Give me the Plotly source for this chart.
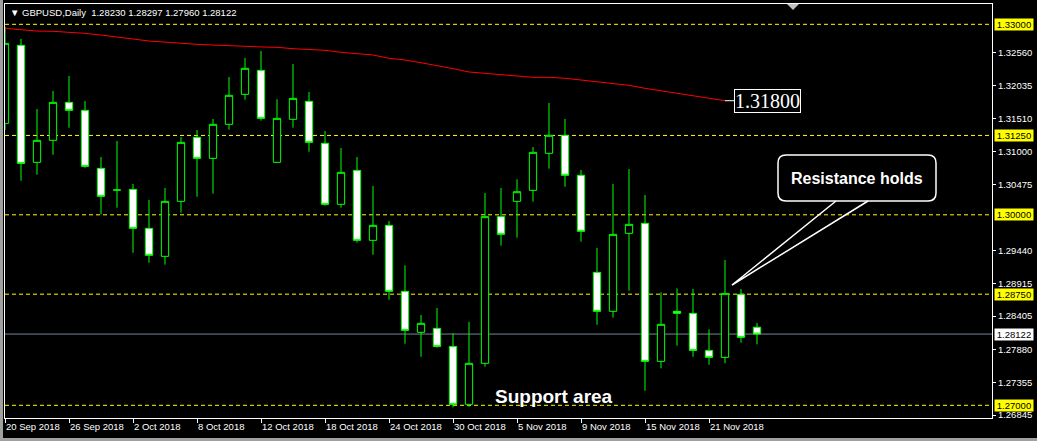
import plotly.graph_objects as go

# ---------------- data ----------------
dates = ["2018-09-20", "2018-09-21", "2018-09-24", "2018-09-25", "2018-09-26", "2018-09-27",
         "2018-09-28", "2018-10-01", "2018-10-02", "2018-10-03", "2018-10-04", "2018-10-05",
         "2018-10-08", "2018-10-09", "2018-10-10", "2018-10-11", "2018-10-12", "2018-10-15",
         "2018-10-16", "2018-10-17", "2018-10-18", "2018-10-19", "2018-10-22", "2018-10-23",
         "2018-10-24", "2018-10-25", "2018-10-26", "2018-10-29", "2018-10-30", "2018-10-31",
         "2018-11-01", "2018-11-02", "2018-11-05", "2018-11-06", "2018-11-07", "2018-11-08",
         "2018-11-09", "2018-11-12", "2018-11-13", "2018-11-14", "2018-11-15", "2018-11-16",
         "2018-11-19", "2018-11-20", "2018-11-21", "2018-11-22", "2018-11-23", "2018-11-26"]

open_ = [1.31440, 1.32669, 1.30826, 1.31173, 1.31771, 1.31645, 1.30732, 1.30391, 1.30401, 1.29787,
         1.29346, 1.30212, 1.31220, 1.30889, 1.31425, 1.31897, 1.32275, 1.30826, 1.31504, 1.31787,
         1.31126, 1.30165, 1.30700, 1.29598, 1.29834, 1.28795, 1.28149, 1.28212, 1.27928, 1.27015,
         1.27661, 1.29971, 1.30212, 1.30385, 1.30968, 1.31252, 1.30622, 1.29094, 1.28480, 1.29708,
         1.29866, 1.27692, 1.28480, 1.28448, 1.27865, 1.27755, 1.28747, 1.28230]
high = [1.32963, 1.32769, 1.31666, 1.31950, 1.32186, 1.31792, 1.30910, 1.31162, 1.30485, 1.30233,
        1.30422, 1.31225, 1.31336, 1.31509, 1.32170, 1.32470, 1.32580, 1.31819, 1.32375, 1.31934,
        1.31320, 1.31052, 1.30910, 1.30454, 1.29902, 1.29204, 1.28422, 1.28532, 1.28133, 1.28312,
        1.30343, 1.30422, 1.30558, 1.31068, 1.31761, 1.31509, 1.30706, 1.29477, 1.30485, 1.30721,
        1.30312, 1.28779, 1.28842, 1.28831, 1.28196, 1.29288, 1.28831, 1.28297]
low = [1.31336, 1.30538, 1.30632, 1.30947, 1.31372, 1.30742, 1.30007, 1.30112, 1.29403, 1.29246,
       1.29215, 1.30034, 1.30286, 1.30333, 1.31341, 1.31813, 1.31483, 1.30826, 1.31372, 1.30994,
       1.30144, 1.30112, 1.29561, 1.29372, 1.28663, 1.27970, 1.27766, 1.27907, 1.26968, 1.26978,
       1.27608, 1.29514, 1.29640, 1.30207, 1.30727, 1.30443, 1.29577, 1.28270, 1.28380, 1.28805,
       1.27230, 1.27582, 1.27939, 1.27766, 1.27640, 1.27661, 1.27986, 1.27960]
close = [1.32700, 1.30810, 1.31173, 1.31771, 1.31645, 1.30763, 1.30291, 1.30391, 1.29787, 1.29362,
         1.30212, 1.31141, 1.30889, 1.31425, 1.31882, 1.32307, 1.31519, 1.31519, 1.31834, 1.31141,
         1.30165, 1.30669, 1.29598, 1.29834, 1.28795, 1.28180, 1.28291, 1.27928, 1.27015, 1.27661,
         1.29971, 1.29692, 1.30364, 1.30984, 1.31252, 1.30622, 1.29740, 1.28480, 1.29692, 1.29850,
         1.27692, 1.28275, 1.28448, 1.27865, 1.27755, 1.28763, 1.28070, 1.28122]
moving_avg = [1.32937, 1.32918, 1.32894, 1.32890, 1.32879, 1.32858, 1.32831, 1.32805, 1.32769, 1.32737,
              1.32717, 1.32701, 1.32685, 1.32674, 1.32658, 1.32654, 1.32643, 1.32638, 1.32616, 1.32606,
              1.32591, 1.32559, 1.32537, 1.32517, 1.32465, 1.32438, 1.32395, 1.32354, 1.32302, 1.32249,
              1.32228, 1.32206, 1.32181, 1.32165, 1.32165, 1.32150, 1.32123, 1.32096, 1.32071, 1.32039,
              1.31992, 1.31954, 1.31913, 1.31871, 1.31828, 1.31797, None, None]

tick_dates = ["2018-09-20", "2018-09-26", "2018-10-02", "2018-10-08", "2018-10-12", "2018-10-18",
              "2018-10-24", "2018-10-30", "2018-11-05", "2018-11-09", "2018-11-15", "2018-11-21"]
tick_labels = ["20 Sep 2018", "26 Sep 2018", "2 Oct 2018", "8 Oct 2018", "12 Oct 2018", "18 Oct 2018",
               "24 Oct 2018", "30 Oct 2018", "5 Nov 2018", "9 Nov 2018", "15 Nov 2018", "21 Nov 2018"]
price_ticks = [1.32560, 1.32035, 1.31510, 1.31000, 1.30475, 1.29440, 1.28915,
               1.28405, 1.27880, 1.27355, 1.26845]
levels = [1.33000, 1.31250, 1.30000, 1.28750, 1.27000]
ma_label = 1.31800
symbol_title = "GBPUSD,Daily"
header_ohlc = [1.28230, 1.28297, 1.27960, 1.28122]

# ---------------- geometry ----------------
W, H = 1037, 441
PL, PR, PT, PB = 5, 992, 4, 418          # plot area in pixels
BAR_PX = 16
X_MAX = (PR - PL) / BAR_PX
Y_TOP, Y_BOT = 1.33320, 1.26800

def px_x(px):
    return (px - PL) / (PR - PL)

def px_y(py):
    return (PB - py) / (PB - PT)

def P(px, py):
    return f"{px_x(px):.5f},{px_y(py):.5f}"

xs = list(range(len(dates)))
tickvals = [dates.index(d) for d in tick_dates]
GREEN = "#00ff00"
FONT = "Liberation Sans, Arial, sans-serif"
SMALL = 9.5

fig = go.Figure()

fig.add_trace(go.Scatter(x=xs, y=moving_avg, mode="lines",
                         line=dict(color="#ff0000", width=1), hoverinfo="skip", showlegend=False))

fig.add_trace(go.Candlestick(
    x=xs, open=open_, high=high, low=low, close=close,
    increasing=dict(line=dict(color=GREEN, width=1), fillcolor="#000000"),
    decreasing=dict(line=dict(color=GREEN, width=1), fillcolor="#ffffff"),
    whiskerwidth=0, showlegend=False, hoverinfo="skip"))

shapes = []
for lv in levels:
    shapes.append(dict(type="line", xref="paper", x0=0, x1=1, yref="y", y0=lv, y1=lv,
                       line=dict(color="#ffff00", width=1, dash="4px,3px"), layer="below"))
shapes.append(dict(type="line", xref="paper", x0=0, x1=1, yref="y", y0=close[-1], y1=close[-1],
                   line=dict(color="#778899", width=1), layer="below"))
# leader from the moving average to its price label
last_ma = max(i for i, v in enumerate(moving_avg) if v is not None)
shapes.append(dict(type="line", xref="x", x0=last_ma, x1=last_ma + 0.75, yref="y",
                   y0=moving_avg[last_ma], y1=moving_avg[last_ma],
                   line=dict(color="#ffffff", width=1)))
# callout box
r = 8
x0b, x1b, y0b, y1b = 778, 936, 155, 201
box = (f"M {P(x0b + r, y0b)} L {P(x1b - r, y0b)} Q {P(x1b, y0b)} {P(x1b, y0b + r)} "
       f"L {P(x1b, y1b - r)} Q {P(x1b, y1b)} {P(x1b - r, y1b)} L {P(x0b + r, y1b)} "
       f"Q {P(x0b, y1b)} {P(x0b, y1b - r)} L {P(x0b, y0b + r)} Q {P(x0b, y0b)} {P(x0b + r, y0b)} Z")
shapes.append(dict(type="path", xref="paper", yref="paper", path=box,
                   fillcolor="#000000", line=dict(color="#ffffff", width=1.5)))
shapes.append(dict(type="path", xref="paper", yref="paper",
                   path=f"M {P(836, 201)} L {P(732, 285)} L {P(868, 201)}",
                   fillcolor="rgba(0,0,0,0)", line=dict(color="#ffffff", width=1.5)))
# chart shift marker at the top
shapes.append(dict(type="path", xref="paper", yref="paper",
                   path=f"M {P(787, 4)} L {P(799, 4)} L {P(793, 10)} Z",
                   fillcolor="#c0c0c0", line=dict(color="#c0c0c0", width=0)))
# window border (left, bottom)
shapes.append(dict(type="rect", xref="paper", yref="paper", x0=px_x(0), x1=px_x(3),
                   y0=px_y(441), y1=px_y(0), fillcolor="#a0a0a0", line=dict(width=0)))
shapes.append(dict(type="rect", xref="paper", yref="paper", x0=px_x(0), x1=px_x(1037),
                   y0=px_y(441), y1=px_y(438), fillcolor="#a0a0a0", line=dict(width=0)))

annotations = []
for lv in levels:
    annotations.append(dict(xref="paper", x=px_x(994), xanchor="left", yref="y", y=lv,
                            yanchor="middle", text=f"{lv:.5f}", showarrow=False,
                            font=dict(family=FONT, size=SMALL, color="#000000"),
                            bgcolor="#ffff00", width=38, height=11, borderpad=0))
annotations.append(dict(xref="paper", x=px_x(994), xanchor="left", yref="y", y=close[-1],
                        yanchor="middle", text=f"{close[-1]:.5f}", showarrow=False,
                        font=dict(family=FONT, size=SMALL, color="#000000"),
                        bgcolor="#ffffff", width=38, height=11, borderpad=0))
annotations.append(dict(xref="x", x=last_ma + 0.56, xanchor="left", yref="y", y=ma_label,
                        yanchor="middle", text=f"{ma_label:.5f}", showarrow=False,
                        font=dict(family="Liberation Serif, Times New Roman, serif", size=20,
                                  color="#ffffff"),
                        bgcolor="#000000", bordercolor="#ffffff", borderwidth=1, borderpad=0))
annotations.append(dict(xref="paper", x=px_x(857), xanchor="center", yref="paper", y=px_y(178),
                        yanchor="middle", text="<b>Resistance holds</b>", showarrow=False,
                        font=dict(family=FONT, size=16, color="#ffffff")))
annotations.append(dict(xref="paper", x=px_x(554), xanchor="center", yref="paper", y=px_y(396),
                        yanchor="middle", text="<b>Support area</b>", showarrow=False,
                        font=dict(family=FONT, size=19, color="#ffffff")))
header = (f"▼\u00a0{symbol_title}\u00a0\u00a0" + "\u00a0".join(f"{v:.5f}" for v in header_ohlc))
annotations.append(dict(xref="paper", x=px_x(8), xanchor="left", yref="paper", y=px_y(12.5),
                        yanchor="middle", text=header, showarrow=False,
                        font=dict(family=FONT, size=SMALL, color="#ffffff")))

fig.update_layout(
    width=W, height=H,
    margin=dict(l=PL, r=W - PR, t=PT, b=H - PB, pad=0, autoexpand=False),
    paper_bgcolor="#000000", plot_bgcolor="#000000",
    showlegend=False, boxgap=0.35,
    shapes=shapes, annotations=annotations,
    xaxis=dict(range=[0, X_MAX], rangeslider=dict(visible=False), showgrid=False, zeroline=False,
               tickmode="array", tickvals=tickvals, ticktext=tick_labels, tickangle=0,
               ticks="outside", ticklen=4, tickcolor="#ffffff", ticklabelposition="outside right",
               tickfont=dict(family=FONT, size=SMALL, color="#ffffff"), automargin=False,
               showline=True, linecolor="#ffffff", linewidth=1, mirror=True, fixedrange=True),
    yaxis=dict(range=[Y_BOT, Y_TOP], side="right", showgrid=False, zeroline=False,
               tickmode="array", tickvals=price_ticks, ticktext=[f"{v:.5f}" for v in price_ticks],
               ticks="outside", ticklen=3, tickcolor="#ffffff", automargin=False,
               tickfont=dict(family=FONT, size=SMALL, color="#ffffff"),
               showline=True, linecolor="#ffffff", linewidth=1, mirror=True, fixedrange=True),
)

fig.write_html("out.html", config={"displayModeBar": False},
               post_script="document.body.style.margin='0px';")
